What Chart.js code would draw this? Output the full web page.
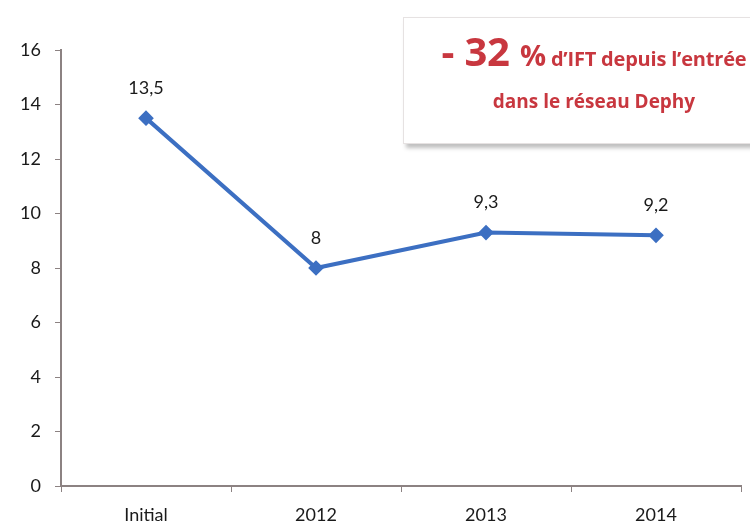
<!DOCTYPE html>
<html><head><meta charset="utf-8">
<script src="https://cdn.jsdelivr.net/npm/chart.js@4/dist/chart.umd.min.js"></script>
<style>
html,body{margin:0;padding:0;background:#fff;width:750px;height:527px;overflow:hidden;position:relative}
#wrap{position:absolute;left:0;top:0;width:750px;height:527px}
#box{position:absolute;left:403px;top:17px;width:380px;height:125px;background:#fff;border:1px solid #e6e2e2;
 box-shadow:3px 4px 4px rgba(0,0,0,0.25);font-family:"Open Sans",Lato,sans-serif;color:#c8373f;font-weight:bold;text-align:center}
#l1{position:absolute;left:0;width:380px;top:5px;white-space:nowrap;letter-spacing:-0.2px}
#l2{position:absolute;left:0;width:380px;top:70px;font-size:19px;white-space:nowrap}
.big{font-size:40px}.pct{font-size:29px}.sm{font-size:20px}
</style></head><body>
<div id="wrap"><canvas id="c" width="750" height="527"></canvas></div>
<div id="box"><div id="l1"><span class="big">- 32 </span><span class="pct">%</span><span class="sm"> d’IFT depuis l’entrée</span></div>
<div id="l2">dans le réseau Dephy</div></div>
<script>
const categories = ["Initial", "2012", "2013", "2014"];
const iftValues = [13.5, 8, 9.3, 9.2];
const valueLabels = ["13,5", "8", "9,3", "9,2"];
const yTicks = [0, 2, 4, 6, 8, 10, 12, 14, 16];

const FONT = "Lato";
const labelPlugin = {
  id: "valueLabels",
  afterDatasetsDraw(chart) {
    const ctx = chart.ctx;
    const meta = chart.getDatasetMeta(0);
    ctx.save();
    ctx.font = "18px " + FONT;
    ctx.fillStyle = "#1a1a1a";
    ctx.textAlign = "center";
    ctx.textBaseline = "middle";
    meta.data.forEach((pt, i) => {
      ctx.fillText(valueLabels[i], pt.x, pt.y - 30);
    });
    ctx.restore();
  }
};

new Chart(document.getElementById("c"), {
  type: "line",
  data: {
    labels: categories,
    datasets: [{
      data: iftValues,
      borderColor: "#3c6fc2",
      backgroundColor: "#3c6fc2",
      borderWidth: 4,
      pointStyle: "rectRot",
      pointRadius: 5,
      tension: 0
    }]
  },
  options: {
    responsive: false,
    animation: false,
    layout: { padding: { top: 50, left: 0, right: 0, bottom: 0 } },
    plugins: { legend: { display: false }, tooltip: { enabled: false } },
    scales: {
      x: {
        type: "category",
        offset: true,
        grid: { display: true, drawOnChartArea: false, drawTicks: true, tickLength: 6, color: "#8c8282", offset: true },
        border: { display: true, color: "#8c8282", width: 2 },
        ticks: { color: "#1a1a1a", font: { family: FONT, size: 18 }, padding: 12, maxRotation: 0 },
        afterFit(s) { s.height = 41; }
      },
      y: {
        min: 0, max: 16,
        afterBuildTicks(s) { s.ticks = yTicks.map(v => ({ value: v })); },
        grid: { display: true, drawOnChartArea: false, drawTicks: true, tickLength: 6, color: "#8c8282" },
        border: { display: true, color: "#8c8282", width: 2 },
        ticks: { color: "#1a1a1a", font: { family: FONT, size: 18 }, padding: 14 },
        afterFit(s) { s.width = 61; }
      }
    }
  },
  plugins: [labelPlugin]
});
</script>
</body></html>
